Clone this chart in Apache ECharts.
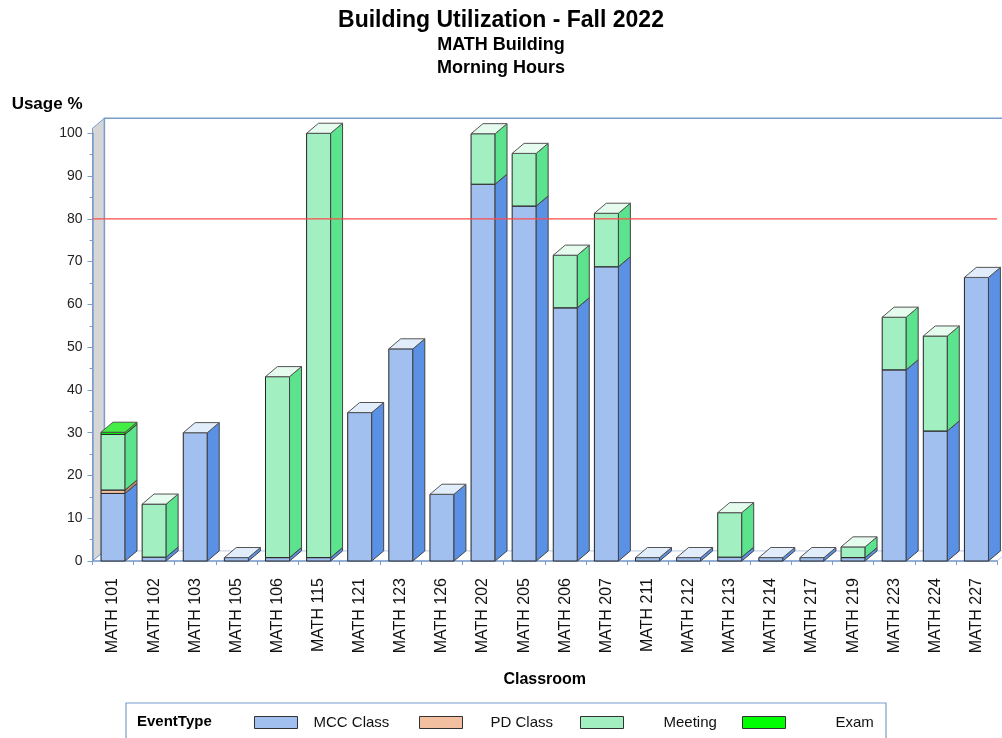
<!DOCTYPE html>
<html>
<head>
<meta charset="utf-8">
<script src="https://cdn.jsdelivr.net/npm/echarts@6/dist/echarts.min.js"></script>
<style>html,body{margin:0;padding:0;background:#fff}#c{width:1002px;height:738px}</style>
</head>
<body>
<div id="c"></div>
<script>
// ---- data ----
var categories = ['MATH 101','MATH 102','MATH 103','MATH 105','MATH 106','MATH 115','MATH 121','MATH 123','MATH 126','MATH 202','MATH 205','MATH 206','MATH 207','MATH 211','MATH 212','MATH 213','MATH 214','MATH 217','MATH 219','MATH 223','MATH 224','MATH 227'];
var mccClass = [15.8, 0.9, 30.0, 0.8, 0.8, 0.8, 34.7, 49.6, 15.6, 88.1, 83.0, 59.2, 68.8, 0.8, 0.8, 0.9, 0.8, 0.8, 0.8, 44.7, 30.4, 66.3];
var pdClass  = [0.8, 0, 0, 0, 0, 0, 0, 0, 0, 0, 0, 0, 0, 0, 0, 0, 0, 0, 0, 0, 0, 0];
var meeting  = [13.0, 12.4, 0, 0, 42.3, 99.2, 0, 0, 0, 11.8, 12.3, 12.3, 12.5, 0, 0, 10.4, 0, 0, 2.5, 12.3, 22.2, 0];
var exam     = [0.5, 0, 0, 0, 0, 0, 0, 0, 0, 0, 0, 0, 0, 0, 0, 0, 0, 0, 0, 0, 0, 0];
var yTicks = [0, 10, 20, 30, 40, 50, 60, 70, 80, 90, 100];
var threshold = 80;

var FONT = "'Liberation Sans', Arial, sans-serif";
var AXIS = '#7b9dcb';
var seriesDefs = [
  {name: 'MCC Class', values: mccClass, front: '#a2c0ef', side: '#5b91e4', top: '#e2edfc'},
  {name: 'PD Class',  values: pdClass,  front: '#f2c0a0', side: '#b98a6c', top: '#f8e0d0'},
  {name: 'Meeting',   values: meeting,  front: '#a2f0c2', side: '#5ce38e', top: '#e4fbee'},
  {name: 'Exam',      values: exam,     front: '#00ff00', side: '#22cc22', top: '#44ee44'}
];

// cumulative bases
var bases = categories.map(function(){return 0;});
var series = seriesDefs.map(function(def, si){
  var data = def.values.map(function(v, i){
    var item = [i, bases[i], v];
    bases[i] += v;
    return item;
  });
  return {
    type: 'custom',
    name: def.name,
    itemStyle: {color: def.front, borderColor: '#333', borderWidth: 1},
    encode: {x: 0, y: 1},
    data: data,
    z: 2 + si,
    renderItem: function(params, api){
      var v = api.value(2);
      if (!(v > 0)) return null;
      var c = api.value(0), b = api.value(1);
      var p0 = api.coord([c, b]);
      var p1 = api.coord([c, b + v]);
      var band = api.size([1, 0])[0];
      var w = band * 0.585;
      var dx = band * 0.29, dy = -band * 0.245;
      var x0 = p0[0] - w / 2, x1 = x0 + w;
      var yb = p0[1], yt = p1[1];
      return {
        type: 'group',
        children: [
          {type: 'rect', shape: {x: x0, y: yt, width: w, height: yb - yt},
           style: {fill: def.front, stroke: '#222', lineWidth: 1}},
          {type: 'polygon', shape: {points: [[x1, yb], [x1, yt], [x1 + dx, yt + dy], [x1 + dx, yb + dy]]},
           style: {fill: def.side, stroke: '#444', lineWidth: 1}},
          {type: 'polygon', shape: {points: [[x0, yt], [x1, yt], [x1 + dx, yt + dy], [x0 + dx, yt + dy]]},
           style: {fill: def.top, stroke: '#555', lineWidth: 1}}
        ]
      };
    }
  };
});
// threshold reference line, drawn on top of the bars
series.push({
  type: 'custom', name: 'threshold', z: 20, silent: true,
  data: [[0, threshold]], encode: {x: 0, y: 1},
  renderItem: function(params, api){
    var cs = params.coordSys;
    var y = api.coord([0, api.value(1)])[1];
    return {type: 'line', shape: {x1: cs.x, y1: y, x2: cs.x + cs.width, y2: y},
            style: {stroke: '#ff4b4b', lineWidth: 1.3}};
  }
});

var legendLeft = [254, 419, 580, 742];
var legendPad = [11, 23, 35, 45];
var legends = seriesDefs.map(function(d, i){
  return {
    data: [d.name], left: legendLeft[i], top: 715, padding: 0,
    icon: 'rect', itemWidth: 43, itemHeight: 12,
    itemStyle: {borderColor: '#333', borderWidth: 1},
    textStyle: {fontFamily: FONT, fontSize: 15, color: '#111', padding: [0, 0, 0, legendPad[i]]}
  };
});

var G = {left: 92.5, right: 5, top: 133.3, bottom: 177};
var chart = echarts.init(document.getElementById('c'));
chart.setOption({
  animation: false,
  backgroundColor: '#fff',
  textStyle: {fontFamily: FONT},
  title: {
    text: 'Building Utilization - Fall 2022',
    subtext: 'MATH Building\nMorning Hours',
    left: 'center', top: 4, itemGap: 2,
    textStyle: {fontFamily: FONT, fontSize: 23, fontWeight: 'bold', color: '#000'},
    subtextStyle: {fontFamily: FONT, fontSize: 18, fontWeight: 'bold', color: '#000', lineHeight: 23}
  },
  grid: G,
  xAxis: {
    type: 'category', data: categories,
    name: 'Classroom', nameLocation: 'middle', nameGap: 111,
    nameTextStyle: {fontFamily: FONT, fontSize: 16, fontWeight: 'bold', color: '#000'},
    axisLine: {lineStyle: {color: AXIS, width: 1.5}},
    axisTick: {show: true, length: 4, lineStyle: {color: AXIS}},
    axisLabel: {rotate: 90, margin: 17, fontSize: 16, color: '#111', fontFamily: FONT, interval: 0}
  },
  yAxis: {
    type: 'value', min: yTicks[0], max: yTicks[yTicks.length - 1], interval: yTicks[1] - yTicks[0],
    name: 'Usage %', nameLocation: 'end', nameGap: 20,
    nameTextStyle: {fontFamily: FONT, fontSize: 17, fontWeight: 'bold', color: '#000', align: 'right', padding: [0, 10, 0, 0]},
    axisLine: {show: true, lineStyle: {color: AXIS, width: 1.5}},
    axisTick: {show: true, length: 5, lineStyle: {color: AXIS}},
    minorTick: {show: true, splitNumber: 2, length: 3, lineStyle: {color: AXIS}},
    splitLine: {show: false},
    axisLabel: {fontSize: 14, color: '#222', margin: 10, fontFamily: FONT}
  },
  legend: legends,
  series: series
});

// 3D frame (walls / floor) and legend box
var L = G.left, R = 1002 - G.right, B = 738 - G.bottom;
var T = chart.convertToPixel({yAxisIndex: 0}, yTicks[yTicks.length - 1]) - 5;
var band = (R - L) / categories.length;
var dx = band * 0.29, dy = -band * 0.245;
chart.setOption({
  graphic: [
    {type: 'polygon', z: -1, shape: {points: [[L, B], [R, B], [R + dx, B + dy], [L + dx, B + dy]]},
     style: {fill: '#fff', stroke: '#b9cbe6', lineWidth: 1}},
    {type: 'polygon', z: -1, shape: {points: [[L, B], [L, T], [L + dx, T + dy], [L + dx, B + dy]]},
     style: {fill: '#d6d6d6', stroke: AXIS, lineWidth: 1}},
    {type: 'polyline', z: -1, shape: {points: [[L + dx, B + dy], [L + dx, T + dy], [R + dx, T + dy]]},
     style: {fill: null, stroke: AXIS, lineWidth: 1.5}},
    {type: 'rect', z: -1, shape: {x: 126, y: 703, width: 760, height: 50},
     style: {fill: null, stroke: AXIS, lineWidth: 1.2}},
    {type: 'text', z: 5, x: 137, y: 722,
     style: {text: 'EventType', fontFamily: FONT, fontSize: 15, fontWeight: 'bold', fill: '#000', textVerticalAlign: 'middle'}}
  ]
});
</script>
</body>
</html>
